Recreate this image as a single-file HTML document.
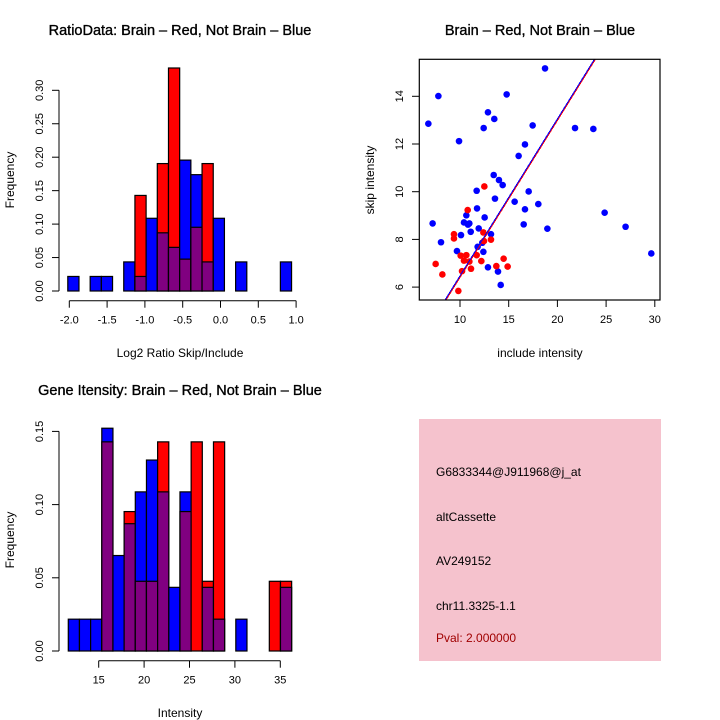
<!DOCTYPE html>
<html><head><meta charset="utf-8"><style>
body{margin:0;background:#fff}
svg{display:block;font-family:"Liberation Sans",sans-serif}
text{font-size:12px;fill:#000}
.tk{font-size:11px}
.t{font-size:14.5px;font-weight:normal;stroke:#000;stroke-width:0.35px}
</style></head><body>
<svg id="s" width="720" height="720" viewBox="0 0 720 720">
<rect x="0" y="0" width="720" height="720" fill="#fff"/>
<text class="t" x="180" y="35" text-anchor="middle">RatioData: Brain – Red, Not Brain – Blue</text>
<text x="180" y="357" text-anchor="middle">Log2 Ratio Skip/Include</text>
<text x="14" y="180" text-anchor="middle" transform="rotate(-90 14 180)">Frequency</text>
<text class="t" x="540" y="35" text-anchor="middle">Brain – Red, Not Brain – Blue</text>
<text x="540" y="357" text-anchor="middle">include intensity</text>
<text x="374" y="180" text-anchor="middle" transform="rotate(-90 374 180)">skip intensity</text>
<text class="t" x="180" y="395" text-anchor="middle">Gene Itensity: Brain – Red, Not Brain – Blue</text>
<text x="180" y="717" text-anchor="middle">Intensity</text>
<text x="14" y="540" text-anchor="middle" transform="rotate(-90 14 540)">Frequency</text>
<g>
<rect x="419" y="419" width="242" height="242" fill="#f5c2cd"/>
<text x="436" y="476">G6833344@J911968@j_at</text>
<text x="436" y="521">altCassette</text>
<text x="436" y="565">AV249152</text>
<text x="436" y="610">chr11.3325-1.1</text>
<text x="436" y="642" style="fill:#a00000">Pval: 2.000000</text>
</g>
</svg>
<script>
// Ratio histogram data (counts; frequency = count/total)
const ratioBinStart = -2.02;
const ratioBinWidth = 0.148;
const ratioRed = [0,0,0,0,0,0,3,0,4,7,1,2,4,0,0,0,0,0,0,0];
const ratioBlue = [1,0,1,1,0,2,1,5,4,3,9,8,2,5,0,2,0,0,0,2];
const ratioXTicks = ["-2.0","-1.5","-1.0","-0.5","0.0","0.5","1.0"];
const ratioYTicks = ["0.00","0.05","0.10","0.15","0.20","0.25","0.30"];
// Intensity histogram data
const intBinStart = 11.65;
const intBinWidth = 1.23;
const intRed = [0,0,0,3,0,2,1,1,3,0,2,3,1,3,0,0,0,0,1,1];
const intBlue = [1,1,1,7,3,4,5,6,5,2,5,0,2,1,0,1,0,0,0,2];
const intXTicks = ["15","20","25","30","35"];
const intYTicks = ["0.00","0.05","0.10","0.15"];
// Scatter data
const blueX = [6.75,7.78,9.90,18.73,14.79,12.87,13.52,12.43,17.46,21.81,23.69,16.67,16.02,13.46,14.00,14.38,11.71,13.59,17.05,15.61,18.04,11.75,16.67,24.85,10.65,12.53,7.19,10.41,10.96,10.82,16.54,27.0,18.97,11.92,11.10,10.10,13.18,8.05,12.29,11.81,9.69,12.40,29.64,12.87,13.90,14.18];
const blueY = [12.85,14.01,12.12,15.17,14.08,13.33,13.05,12.67,12.78,12.67,12.63,11.98,11.50,10.70,10.49,10.28,10.04,9.71,10.01,9.58,9.48,9.30,9.26,9.12,9.01,8.92,8.67,8.71,8.67,8.62,8.63,8.53,8.45,8.46,8.32,8.18,8.22,7.88,7.86,7.69,7.51,7.48,7.41,6.83,6.65,6.09];
const redX = [12.50,10.79,9.38,9.38,12.40,12.46,13.18,10.07,10.65,11.71,10.41,10.96,12.19,14.48,7.50,11.13,10.21,13.73,14.89,8.19,9.83];
const redY = [10.22,9.23,8.22,8.04,8.29,7.93,7.99,7.32,7.34,7.34,7.11,7.07,7.09,7.19,6.97,6.77,6.67,6.88,6.86,6.53,5.84];
const fitSlope = 0.658;
const fitIntercept = -0.107;
const scatXTicks = [10,15,20,25,30];
const scatYTicks = [6,8,10,12,14];

const NS="http://www.w3.org/2000/svg";
const svg=document.getElementById('s');
function mk(tag,attrs,parent){const e=document.createElementNS(NS,tag);for(const k in attrs)e.setAttribute(k,attrs[k]);(parent||svg).appendChild(e);return e;}

function hist(name,start,width,red,blue,xTicks,yTicks,xmap,ymap,axisY){
  const g=mk('g',{});
  
  
  const rt=red.reduce((a,b)=>a+b,0), bt=blue.reduce((a,b)=>a+b,0);
  for(let i=0;i<red.length;i++){
    const r=red[i]/rt,b=blue[i]/bt;
    const xa=xmap(start+i*width),xb=xmap(start+(i+1)*width);
    const hi=Math.max(r,b),lo=Math.min(r,b);
    if(hi>0){
      const bar=mk('rect',{x:xa,y:ymap(hi),width:xb-xa,height:ymap(0)-ymap(hi),fill:r>b?'#ff0000':'#0000ff',stroke:'#000','stroke-width':1.2},g);
      
      
    }
    if(lo>0){
      const p=mk('rect',{x:xa,y:ymap(lo),width:xb-xa,height:ymap(0)-ymap(lo),fill:'#800080',stroke:'#000','stroke-width':1.2},g);
      
      
    }
  }
  mk('line',{x1:59,x2:59,y1:ymap(0),y2:ymap(parseFloat(yTicks[yTicks.length-1])),stroke:'#000'},g);
  yTicks.forEach(t=>{const y=ymap(parseFloat(t));mk('line',{x1:52,x2:59,y1:y,y2:y,stroke:'#000'},g);
    const tx=mk('text',{x:43,y:y,'text-anchor':'middle','class':'tk',transform:`rotate(-90 43 ${y})`},g);tx.textContent=t;
    
    });
  const xs=xTicks.map(t=>xmap(parseFloat(t)));
  mk('line',{x1:xs[0],x2:xs[xs.length-1],y1:axisY,y2:axisY,stroke:'#000'},g);
  xTicks.forEach((t,i)=>{mk('line',{x1:xs[i],x2:xs[i],y1:axisY,y2:axisY+7,stroke:'#000'},g);
    const tx=mk('text',{x:xs[i],y:axisY+23,'text-anchor':'middle','class':'tk'},g);tx.textContent=t;
    
    });
}
hist('ratio-histogram',ratioBinStart,ratioBinWidth,ratioRed,ratioBlue,ratioXTicks,ratioYTicks,
  v=>69.3+(v+2)*75.6, f=>291-f/0.05*33.45, 300.7);
hist('intensity-histogram',intBinStart,intBinWidth,intRed,intBlue,intXTicks,intYTicks,
  v=>98.7+(v-15)*9.08, f=>651-f/0.05*73.2, 660.7);

// scatter
const sx=v=>460+(v-10)*9.74, sy=v=>191.7-(v-10)*23.85;
const sg=mk('g',{});


const cp=mk('clipPath',{id:'cp'},sg);
mk('rect',{x:419.3,y:59.3,width:240.7,height:240.7},cp);
blueX.forEach((x,i)=>{const c=mk('circle',{cx:sx(x),cy:sy(blueY[i]),r:3.3,fill:'#0000ff'},sg);
  
  });
redX.forEach((x,i)=>{const c=mk('circle',{cx:sx(x),cy:sy(redY[i]),r:3.3,fill:'#ff0000'},sg);
  
  });
const lx1=5,lx2=35;
const l1=mk('line',{x1:sx(lx1)+1,y1:sy(fitSlope*lx1+fitIntercept),x2:sx(lx2)+1,y2:sy(fitSlope*lx2+fitIntercept),stroke:'#ff0000','stroke-width':1,'shape-rendering':'crispEdges','clip-path':'url(#cp)'},sg);


const l2=mk('line',{x1:sx(lx1),y1:sy(fitSlope*lx1+fitIntercept),x2:sx(lx2),y2:sy(fitSlope*lx2+fitIntercept),stroke:'#0000ff','stroke-width':1,'shape-rendering':'crispEdges','clip-path':'url(#cp)'},sg);


const box=mk('rect',{x:419.3,y:59.3,width:240.7,height:240.7,fill:'none',stroke:'#000','stroke-width':1.2},sg);


scatXTicks.forEach(t=>{const x=sx(t);mk('line',{x1:x,x2:x,y1:300,y2:307,stroke:'#000'},sg);
  const tx=mk('text',{x:x,y:323,'text-anchor':'middle','class':'tk'},sg);tx.textContent=t;
  
  });
scatYTicks.forEach(t=>{const y=sy(t);mk('line',{x1:412,x2:419.3,y1:y,y2:y,stroke:'#000'},sg);
  const tx=mk('text',{x:403,y:y,'text-anchor':'middle','class':'tk',transform:`rotate(-90 403 ${y})`},sg);tx.textContent=t;
  
  });
</script>
</body></html>
